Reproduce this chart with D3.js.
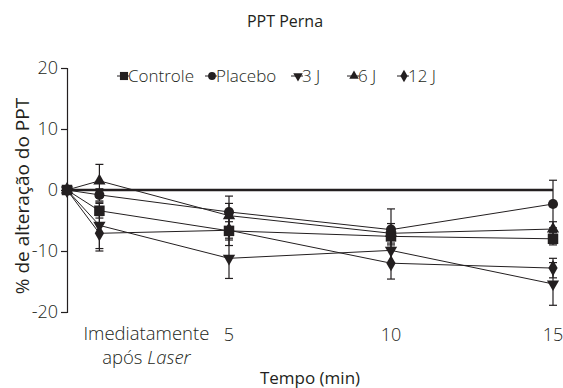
<!DOCTYPE html>
<html>
<head>
<meta charset="utf-8">
<script src="https://cdn.jsdelivr.net/npm/d3@7"></script>
<style>
body{margin:0;padding:0;background:#fff;overflow:hidden;}
text{font-family:"Open Sans",Lato,sans-serif;fill:#231f20;}
</style>
</head>
<body>
<script>
// tempo: 0 = basal, 1 = imediatamente após laser, 5, 10, 15 min
const times = [0, 1, 5, 10, 15];
const seriesNames = ["Controle", "Placebo", "3 J", "6 J", "12 J"];
const symbols = ["square", "circle", "triangleDown", "triangle", "diamond"];

const controle = [0, -3.4, -6.7, -7.6, -8.0];
const placebo = [0, -0.8, -3.6, -6.5, -2.3];
const j3 = [0, -5.8, -11.2, -9.9, -15.4];
const j6 = [0, 1.5, -4.2, -7.1, -6.4];
const j12 = [0, -7.1, -6.6, -12.0, -12.8];

const errControle = [0, 1.2, 1.5, 1.4, 1.0];
const errPlacebo = [0, 1.0, 2.6, 3.4, 3.9];
const err3 = [0, 3.8, 3.3, 2.0, 3.5];
const err6 = [0, 2.7, 2.0, 1.6, 1.2];
const err12 = [0, 2.9, 2.5, 2.6, 1.6];

const yTicks = [20, 10, 0, -10, -20];
const xTickVals = [5, 10, 15];

const values = [controle, placebo, j3, j6, j12];
const errors = [errControle, errPlacebo, err3, err6, err12];

const W = 563, H = 388;
const svg = d3.select("body").append("svg").attr("width", W).attr("height", H);

const x = d3.scaleLinear().domain([0, 15]).range([67, 553]);
const y = d3.scaleLinear().domain([-20, 20]).range([312, 68]);

const ink = "#231f20";

// title
svg.append("text").attr("x", 285).attr("y", 27).attr("text-anchor", "middle")
  .style("font-size", "16px").style("font-weight", 500).text("PPT Perna");

// y axis
const yAxis = svg.append("g").attr("transform", "translate(" + x(0) + ",0)")
  .call(d3.axisLeft(y).tickValues(yTicks).tickSize(6).tickPadding(3).tickFormat(d => String(d)));
yAxis.select(".domain").attr("stroke", ink).attr("stroke-width", 1.2);
yAxis.selectAll(".tick line").attr("stroke", ink).attr("stroke-width", 1.2);
yAxis.selectAll(".tick text").style("font-family", "'Open Sans'").style("font-weight", 300)
  .style("font-size", "18px").attr("fill", ink);

svg.append("text").attr("transform", "translate(29," + (y(0) + 6) + ") rotate(-90)")
  .attr("text-anchor", "middle").style("font-size", "19px").style("font-weight", 400)
  .text("% de alteração do PPT");

// zero line
svg.append("line").attr("x1", x(0)).attr("x2", x(15)).attr("y1", y(0)).attr("y2", y(0))
  .attr("stroke", ink).attr("stroke-width", 2.5);

// x labels
svg.selectAll(".xl").data(xTickVals).enter().append("text")
  .attr("x", d => x(d)).attr("y", 341).attr("text-anchor", "middle")
  .style("font-size", "18px").style("font-weight", 300).text(d => d);

const imed = svg.append("g").attr("transform", "translate(" + (x(1) + 47) + ",0)");
imed.append("text").attr("y", 340).attr("text-anchor", "middle")
  .style("font-size", "18.5px").style("font-weight", 300).text("Imediatamente");
const ap = imed.append("text").attr("y", 364).attr("text-anchor", "middle")
  .style("font-size", "18.5px").style("font-weight", 300);
ap.append("tspan").text("após ");
ap.append("tspan").style("font-style", "italic").text("Laser");

svg.append("text").attr("x", 310).attr("y", 384).attr("text-anchor", "middle")
  .style("font-size", "17px").style("font-weight", 500).text("Tempo (min)");

// markers
const symMap = {
  square: d3.symbolSquare, circle: d3.symbolCircle, triangle: d3.symbolTriangle,
  triangleDown: d3.symbolTriangle, diamond: d3.symbolDiamond
};
function marker(g, name, cx, cy, k) {
  const sizes = { square: 110, circle: 80, triangle: 65, triangleDown: 65, diamond: 75 };
  g.append("path").attr("d", d3.symbol().type(symMap[name]).size(sizes[name] * k)())
    .attr("transform", "translate(" + cx + "," + cy + ")" + (name === "triangleDown" ? " rotate(180)" : ""))
    .attr("fill", ink);
}

const line = d3.line().x(d => x(d[0])).y(d => y(d[1]));

// error bars
values.forEach((vals, s) => {
  const g = svg.append("g");
  times.forEach((t, i) => {
    const e = errors[s][i];
    if (!e) return;
    const cx = x(t);
    g.append("line").attr("x1", cx).attr("x2", cx).attr("y1", y(vals[i] + e)).attr("y2", y(vals[i] - e))
      .attr("stroke", ink).attr("stroke-width", 1.2);
    [vals[i] + e, vals[i] - e].forEach(v => {
      g.append("line").attr("x1", cx - 4).attr("x2", cx + 4).attr("y1", y(v)).attr("y2", y(v))
        .attr("stroke", ink).attr("stroke-width", 1.2);
    });
  });
});

// lines + markers
values.forEach((vals, s) => {
  const g = svg.append("g");
  g.append("path").datum(times.map((t, i) => [t, vals[i]])).attr("d", line)
    .attr("fill", "none").attr("stroke", ink).attr("stroke-width", 1);
  times.forEach((t, i) => marker(g, symbols[s], x(t), y(vals[i]), 1));
});

// legend
const legendX = [124, 212, 298, 354, 404];
const legend = svg.append("g");
seriesNames.forEach((n, i) => {
  const lx = legendX[i], ly = 76;
  legend.append("line").attr("x1", lx - 7).attr("x2", lx + 5).attr("y1", ly).attr("y2", ly)
    .attr("stroke", ink).attr("stroke-width", 1);
  marker(legend, symbols[i], lx, ly, 0.6);
  legend.append("text").attr("x", lx + 4).attr("y", ly + 6)
    .style("font-size", "17px").style("font-weight", 300).text(n);
});
</script>
</body>
</html>
